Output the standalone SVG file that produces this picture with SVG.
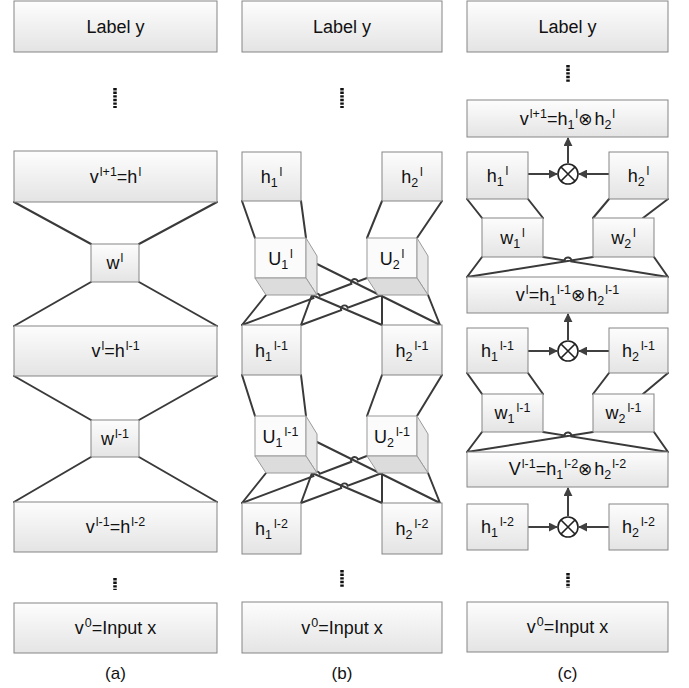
<svg xmlns="http://www.w3.org/2000/svg" width="689" height="688" viewBox="0 0 689 688">
<defs>
<linearGradient id="g" x1="0" y1="0" x2="0" y2="1">
<stop offset="0" stop-color="#fdfdfd"/>
<stop offset="1" stop-color="#e4e4e4"/>
</linearGradient>
<marker id="ah" viewBox="0 0 10 10" refX="9" refY="5" markerWidth="4.5" markerHeight="4.5" orient="auto">
<path d="M0,0 L10,5 L0,10 z" fill="#404040"/>
</marker>
<style>
.b{fill:url(#g);stroke:#858585;stroke-width:1}
.ff{fill:#fbfbfb;stroke:#9a9a9a;stroke-width:1}
.fr{fill:#e8e8e8;stroke:#9a9a9a;stroke-width:1}
.fb{fill:#dcdcdc;stroke:#9a9a9a;stroke-width:1}
.c{fill:none;stroke:#3a3a3a;stroke-width:2;stroke-linecap:round}
.a{fill:none;stroke:#404040;stroke-width:2;marker-end:url(#ah)}
.d{stroke:#111;stroke-width:3.5;stroke-dasharray:2.4 1.2}
.ox{fill:#fff;stroke:#222;stroke-width:1.6}
text{font-family:"Liberation Sans","DejaVu Sans",Arial,sans-serif;font-size:18px;fill:#111;text-anchor:middle}
.p{font-size:12.5px}
.o{font-size:17px}
.cap{font-size:17px}
</style>
</defs>

<g id="connectors">
<!-- (a) -->
<path class="c" d="M14,202 L91,244 M217,202 L139,244 M91,282 L14,326 M139,282 L217,326 M14,376 L91,420 M217,376 L139,420 M91,457 L14,502 M139,457 L217,502"/>
<!-- (b) upper layer -->
<path class="c" d="M242,201 L255,238 M301,201 L306,238 M382,201 L367,238 M442,201 L417,238"/>
<path class="c" d="M266,295 L242,325 M312,295 L301,325 M317,264 L440,325 M312,295 L382,325 M382,295 L382,325 M428,295 L440,325"/>
<path class="c" d="M242,325 L313.3,298.2 A3.5,3.5 0 0 1 319.9,295.8 L351.3,283.8 A3.5,3.5 0 0 1 357.9,281.4 L367,278"/>
<path class="c" d="M301,325 L341.1,310.1 A3.5,3.5 0 0 1 347.7,307.7 L382,295"/>
<!-- (b) lower layer -->
<path class="c" d="M242,375 L255,416 M301,375 L306,416 M382,375 L367,416 M442,375 L417,416"/>
<path class="c" d="M266,473 L242,503 M312,473 L301,503 M317,442 L440,503 M312,473 L382,503 M382,473 L382,503 M428,473 L440,503"/>
<path class="c" d="M242,503 L313.3,476.2 A3.5,3.5 0 0 1 319.9,473.8 L351.3,461.8 A3.5,3.5 0 0 1 357.9,459.4 L377,452"/>
<path class="c" d="M301,503 L341.1,488.1 A3.5,3.5 0 0 1 347.7,485.7 L382,473"/>
<!-- (c) -->
<path class="c" d="M467,199 L482,218 M528,199 L543,218 M609,199 L593,218 M668,199 L643,218"/>
<path class="c" d="M482,257 L467,277 M593,257 L467,277 M654,257 L668,277 M543,257 L564.4,260.4 A3.5,3.5 0 0 1 571.4,261.5 L668,277"/>
<path class="c" d="M467,373 L482,394 M528,373 L543,394 M609,373 L593,394 M668,373 L643,394"/>
<path class="c" d="M482,432 L467,452 M593,432 L467,452 M654,432 L668,452 M543,432 L564.4,435.4 A3.5,3.5 0 0 1 571.4,436.5 L668,452"/>
<path class="a" d="M528,174 L557,174"/>
<path class="a" d="M609,174 L579,174"/>
<path class="a" d="M568,163 L568,138"/>
<path class="a" d="M528,351 L557,351"/>
<path class="a" d="M609,351 L579,351"/>
<path class="a" d="M568,340 L568,314"/>
<path class="a" d="M528,527 L557,527"/>
<path class="a" d="M609,527 L579,527"/>
<path class="a" d="M568,516 L568,488"/>
</g>

<!-- column (a) -->
<g id="a-label"><rect class="b" x="14" y="1" width="203" height="51"/><text x="115.5" y="33">Label y</text></g>
<g id="a-dots1"><line class="d" x1="115" y1="88" x2="115" y2="108"/></g>
<g id="a-v-l1"><rect class="b" x="14" y="151" width="203" height="51"/><text x="115.5" y="183">v<tspan class="p" dy="-7" dx="1">l+1</tspan><tspan dy="7">=h</tspan><tspan class="p" dy="-7" dx="1">l</tspan></text></g>
<g id="a-w-l"><rect class="b" x="91" y="244" width="48" height="38"/><text x="115" y="269">w<tspan class="p" dy="-7" dx="1">l</tspan></text></g>
<g id="a-v-l"><rect class="b" x="14" y="326" width="203" height="50"/><text x="115.5" y="357">v<tspan class="p" dy="-7" dx="1">l</tspan><tspan dy="7">=h</tspan><tspan class="p" dy="-7" dx="1">l-1</tspan></text></g>
<g id="a-w-l-1"><rect class="b" x="91" y="420" width="48" height="37"/><text x="115" y="445">w<tspan class="p" dy="-7" dx="1">l-1</tspan></text></g>
<g id="a-v-l-1"><rect class="b" x="14" y="502" width="203" height="50"/><text x="115.5" y="533">v<tspan class="p" dy="-7" dx="1">l-1</tspan><tspan dy="7">=h</tspan><tspan class="p" dy="-7" dx="1">l-2</tspan></text></g>
<g id="a-dots2"><line class="d" x1="115" y1="578" x2="115" y2="590"/></g>
<g id="a-v0"><rect class="b" x="14" y="603" width="203" height="50"/><text x="115.5" y="634">v<tspan class="p" dy="-7" dx="1">0</tspan><tspan dy="7">=Input x</tspan></text></g>
<g id="a-cap"><text class="cap" x="115.5" y="679">(a)</text></g>

<!-- column (b) -->
<g id="b-label"><rect class="b" x="242" y="1" width="200" height="51"/><text x="342" y="33">Label y</text></g>
<g id="b-dots1"><line class="d" x1="342" y1="88" x2="342" y2="108"/></g>
<g id="b-h1-l"><rect class="b" x="242" y="152" width="59" height="49"/><text x="271.5" y="183">h<tspan class="p" dy="4">1</tspan><tspan class="p" dy="-11" dx="2">l</tspan></text></g>
<g id="b-h2-l"><rect class="b" x="382" y="152" width="60" height="49"/><text x="412" y="183">h<tspan class="p" dy="4">2</tspan><tspan class="p" dy="-11" dx="2">l</tspan></text></g>
<g id="b-U1-l"><rect class="ff" x="255" y="238" width="51" height="40"/><polygon class="fr" points="306,238 317,256 317,295 306,278"/><polygon class="fb" points="255,278 306,278 317,295 266,295"/><text x="280.5" y="265">U<tspan class="p" dy="4">1</tspan><tspan class="p" dy="-11" dx="2">l</tspan></text></g>
<g id="b-U2-l"><rect class="ff" x="367" y="238" width="50" height="40"/><polygon class="fr" points="417,238 428,256 428,295 417,278"/><polygon class="fb" points="367,278 417,278 428,295 378,295"/><text x="392" y="265">U<tspan class="p" dy="4">2</tspan><tspan class="p" dy="-11" dx="2">l</tspan></text></g>
<g id="b-h1-l-1"><rect class="b" x="242" y="325" width="59" height="50"/><text x="271.5" y="357">h<tspan class="p" dy="4">1</tspan><tspan class="p" dy="-11" dx="2">l-1</tspan></text></g>
<g id="b-h2-l-1"><rect class="b" x="382" y="325" width="60" height="50"/><text x="412" y="357">h<tspan class="p" dy="4">2</tspan><tspan class="p" dy="-11" dx="2">l-1</tspan></text></g>
<g id="b-U1-l-1"><rect class="ff" x="255" y="416" width="51" height="40"/><polygon class="fr" points="306,416 317,434 317,473 306,456"/><polygon class="fb" points="255,456 306,456 317,473 266,473"/><text x="280.5" y="443">U<tspan class="p" dy="4">1</tspan><tspan class="p" dy="-11" dx="2">l-1</tspan></text></g>
<g id="b-U2-l-1"><rect class="ff" x="367" y="416" width="50" height="40"/><polygon class="fr" points="417,416 428,434 428,473 417,456"/><polygon class="fb" points="367,456 417,456 428,473 378,473"/><text x="392" y="443">U<tspan class="p" dy="4">2</tspan><tspan class="p" dy="-11" dx="2">l-1</tspan></text></g>
<g id="b-h1-l-2"><rect class="b" x="242" y="503" width="59" height="51"/><text x="271.5" y="535">h<tspan class="p" dy="4">1</tspan><tspan class="p" dy="-11" dx="2">l-2</tspan></text></g>
<g id="b-h2-l-2"><rect class="b" x="382" y="503" width="60" height="51"/><text x="412" y="535">h<tspan class="p" dy="4">2</tspan><tspan class="p" dy="-11" dx="2">l-2</tspan></text></g>
<g id="b-dots2"><line class="d" x1="342" y1="570" x2="342" y2="588"/></g>
<g id="b-v0"><rect class="b" x="242" y="602" width="200" height="51"/><text x="342" y="634">v<tspan class="p" dy="-7" dx="1">0</tspan><tspan dy="7">=Input x</tspan></text></g>
<g id="b-cap"><text class="cap" x="342" y="679">(b)</text></g>

<!-- column (c) -->
<g id="c-label"><rect class="b" x="467" y="1" width="201" height="51"/><text x="567.5" y="33">Label y</text></g>
<g id="c-dots1"><line class="d" x1="568" y1="65" x2="568" y2="83"/></g>
<g id="c-v-l1"><rect class="b" x="467" y="100" width="201" height="37"/><text x="567.5" y="125">v<tspan class="p" dy="-7" dx="1">l+1</tspan><tspan dy="7">=h</tspan><tspan class="p" dy="4">1</tspan><tspan class="p" dy="-11" dx="1">l</tspan><tspan class="o" dy="7">⊗</tspan><tspan dx="2">h</tspan><tspan class="p" dy="4">2</tspan><tspan class="p" dy="-11" dx="1">l</tspan></text></g>
<g id="c-h1-l"><rect class="b" x="467" y="152" width="61" height="47"/><text x="497.5" y="182">h<tspan class="p" dy="4">1</tspan><tspan class="p" dy="-11" dx="2">l</tspan></text></g>
<g id="c-h2-l"><rect class="b" x="609" y="152" width="59" height="47"/><text x="638.5" y="182">h<tspan class="p" dy="4">2</tspan><tspan class="p" dy="-11" dx="2">l</tspan></text></g>
<g id="c-x1"><circle class="ox" cx="568" cy="174" r="10"/><path class="ox" d="M561,167 L575,181 M575,167 L561,181"/></g>
<g id="c-w1-l"><rect class="b" x="482" y="218" width="61" height="39"/><text x="512.5" y="244">w<tspan class="p" dy="4">1</tspan><tspan class="p" dy="-11" dx="2">l</tspan></text></g>
<g id="c-w2-l"><rect class="b" x="593" y="218" width="61" height="39"/><text x="623.5" y="244">w<tspan class="p" dy="4">2</tspan><tspan class="p" dy="-11" dx="2">l</tspan></text></g>
<g id="c-v-l"><rect class="b" x="467" y="277" width="201" height="36"/><text x="567.5" y="301">v<tspan class="p" dy="-7" dx="1">l</tspan><tspan dy="7">=h</tspan><tspan class="p" dy="4">1</tspan><tspan class="p" dy="-11" dx="1">l-1</tspan><tspan class="o" dy="7">⊗</tspan><tspan dx="2">h</tspan><tspan class="p" dy="4">2</tspan><tspan class="p" dy="-11" dx="1">l-1</tspan></text></g>
<g id="c-h1-l-1"><rect class="b" x="467" y="328" width="61" height="45"/><text x="497.5" y="357">h<tspan class="p" dy="4">1</tspan><tspan class="p" dy="-11" dx="2">l-1</tspan></text></g>
<g id="c-h2-l-1"><rect class="b" x="609" y="328" width="59" height="45"/><text x="638.5" y="357">h<tspan class="p" dy="4">2</tspan><tspan class="p" dy="-11" dx="2">l-1</tspan></text></g>
<g id="c-x2"><circle class="ox" cx="568" cy="351" r="10"/><path class="ox" d="M561,344 L575,358 M575,344 L561,358"/></g>
<g id="c-w1-l-1"><rect class="b" x="482" y="394" width="61" height="38"/><text x="512.5" y="419">w<tspan class="p" dy="4">1</tspan><tspan class="p" dy="-11" dx="2">l-1</tspan></text></g>
<g id="c-w2-l-1"><rect class="b" x="593" y="394" width="61" height="38"/><text x="623.5" y="419">w<tspan class="p" dy="4">2</tspan><tspan class="p" dy="-11" dx="2">l-1</tspan></text></g>
<g id="c-v-l-1"><rect class="b" x="467" y="452" width="201" height="35"/><text x="567.5" y="475">V<tspan class="p" dy="-7" dx="1">l-1</tspan><tspan dy="7">=h</tspan><tspan class="p" dy="4">1</tspan><tspan class="p" dy="-11" dx="1">l-2</tspan><tspan class="o" dy="7">⊗</tspan><tspan dx="2">h</tspan><tspan class="p" dy="4">2</tspan><tspan class="p" dy="-11" dx="1">l-2</tspan></text></g>
<g id="c-h1-l-2"><rect class="b" x="467" y="504" width="61" height="46"/><text x="497.5" y="533">h<tspan class="p" dy="4">1</tspan><tspan class="p" dy="-11" dx="2">l-2</tspan></text></g>
<g id="c-h2-l-2"><rect class="b" x="609" y="504" width="59" height="46"/><text x="638.5" y="533">h<tspan class="p" dy="4">2</tspan><tspan class="p" dy="-11" dx="2">l-2</tspan></text></g>
<g id="c-x3"><circle class="ox" cx="568" cy="527" r="10"/><path class="ox" d="M561,520 L575,534 M575,520 L561,534"/></g>
<g id="c-dots2"><line class="d" x1="568" y1="573" x2="568" y2="588"/></g>
<g id="c-v0"><rect class="b" x="467" y="602" width="201" height="50"/><text x="567.5" y="633">v<tspan class="p" dy="-7" dx="1">0</tspan><tspan dy="7">=Input x</tspan></text></g>
<g id="c-cap"><text class="cap" x="567.5" y="679">(c)</text></g>
</svg>
